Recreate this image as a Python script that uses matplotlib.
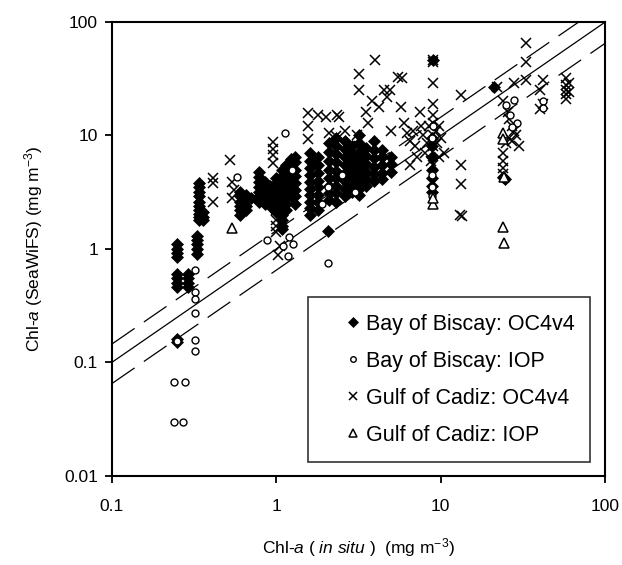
import numpy as np
import matplotlib
matplotlib.use('Agg')
import matplotlib.pyplot as plt

plt.rcParams['font.family'] = ['Liberation Sans', 'DejaVu Sans']
plt.rcParams['mathtext.fontset'] = 'custom'
plt.rcParams['mathtext.rm'] = 'Liberation Sans'
plt.rcParams['mathtext.it'] = 'Liberation Sans:italic'

# ---- Bay of Biscay, OC4v4 (filled diamonds), read column by column
bob_oc4_x = ([0.25] * 10 + [0.29] * 4 + [0.33] * 5 + [0.34] * 10 + [0.36] * 3
             + [0.6] * 6 + [0.65] * 4 + [0.7]
             + [0.78] * 7 + [0.85] * 6 + [0.92] * 6 + [1.0] * 8 + [1.08] * 11
             + [1.15] * 8 + [1.22] * 7 + [1.3] * 8 + [1.6] * 10 + [1.8] * 8
             + [2.1] * 8 + [2.3] * 9 + [2.6] * 8 + [2.9] * 7 + [3.2] * 9
             + [3.5] * 6 + [3.9] * 6 + [4.4] * 5 + [5.0] * 3 + [8.8] * 7
             + [9.0, 2.05, 21.0, 24.0, 24.5])
bob_oc4_y = ([1.1, 1.0, 0.92, 0.85, 0.6, 0.55, 0.5, 0.46, 0.16, 0.15]
             + [0.6, 0.55, 0.5, 0.46]
             + [1.3, 1.2, 1.1, 1.0, 0.9]
             + [3.8, 3.5, 3.2, 2.9, 2.6, 2.4, 2.2, 2.05, 1.9, 1.8]
             + [2.1, 1.9, 1.8]
             + [3.2, 2.9, 2.6, 2.4, 2.2, 2.0]
             + [3.0, 2.7, 2.4, 2.2]
             + [2.8]
             + [4.8, 4.3, 3.9, 3.5, 3.2, 2.9, 2.6]
             + [3.9, 3.5, 3.2, 2.9, 2.7, 2.5]
             + [3.6, 3.3, 3.0, 2.8, 2.6, 2.4]
             + [4.2, 3.8, 3.4, 3.1, 2.8, 2.5, 2.3, 2.1]
             + [5.0, 4.4, 3.9, 3.4, 3.0, 2.6, 2.3, 2.0, 1.8, 1.6, 1.5]
             + [5.5, 4.8, 4.2, 3.7, 3.2, 2.8, 2.5, 2.2]
             + [6.2, 5.5, 4.8, 4.2, 3.7, 3.3, 2.9]
             + [6.5, 5.8, 5.0, 4.4, 3.8, 3.3, 2.9, 2.5]
             + [7.0, 6.0, 5.2, 4.5, 3.9, 3.4, 3.0, 2.6, 2.3, 2.0]
             + [6.5, 5.5, 4.7, 4.0, 3.5, 3.0, 2.6, 2.2]
             + [8.5, 7.2, 6.0, 5.0, 4.2, 3.6, 3.1, 2.7]
             + [9.5, 8.0, 6.8, 5.8, 4.9, 4.2, 3.6, 3.1, 2.6]
             + [9.0, 7.6, 6.5, 5.5, 4.7, 4.0, 3.4, 2.9]
             + [8.0, 6.8, 5.8, 5.0, 4.3, 3.7, 3.2]
             + [10.0, 8.5, 7.2, 6.2, 5.3, 4.5, 3.9, 3.4, 3.0]
             + [7.8, 6.6, 5.6, 4.8, 4.1, 3.6]
             + [9.0, 7.5, 6.3, 5.3, 4.6, 4.0]
             + [7.5, 6.4, 5.5, 4.7, 4.1]
             + [6.5, 5.6, 4.8]
             + [9.5, 8.0, 6.5, 5.0, 4.2, 3.6, 3.2]
             + [46.0, 1.45, 27.0, 4.3, 4.1])

# ---- Bay of Biscay, IOP (open circles)
bob_iop_x = [0.24, 0.28, 0.24, 0.27, 0.25,
             0.32, 0.32, 0.32, 0.32, 0.32, 0.32,
             0.88, 1.09, 1.2, 1.27, 1.18, 2.05,
             1.13, 0.58, 1.25, 2.05, 2.5, 3.0, 1.9,
             8.8, 8.8, 8.9, 9.0, 8.9,
             25.0, 26.5, 28.0, 29.0, 27.0, 42.0, 42.0]
bob_iop_y = [0.067, 0.067, 0.030, 0.030, 0.155,
             0.65, 0.42, 0.36, 0.27, 0.157, 0.125,
             1.2, 1.05, 1.28, 1.1, 0.86, 0.75,
             10.5, 4.3, 5.0, 3.5, 4.5, 3.2, 2.5,
             4.5, 3.5, 2.9, 12.0, 9.5,
             18.5, 15.0, 20.5, 13.0, 11.9, 20.0, 17.5]

# ---- Gulf of Cadiz, OC4v4 (crosses)
goc_oc4_x = [0.41, 0.41, 0.41, 0.52, 0.54, 0.54, 0.55,
             0.96, 0.96, 0.96, 0.96, 1.0, 1.0, 1.0, 1.0, 1.02, 1.05,
             1.55, 1.55, 1.55, 1.8, 2.35, 2.1,
             2.0, 2.4, 2.3, 2.6, 2.8, 3.1, 3.2, 3.2, 3.5, 3.6, 3.8, 4.0,
             4.2, 4.5, 4.7, 4.9, 5.5, 5.8, 5.0, 5.7, 6.0, 6.2, 6.5, 6.8,
             7.0, 7.5, 7.6, 7.8, 8.0, 8.3, 8.5, 8.7,
             9.0, 9.0, 9.0, 9.0, 9.0, 9.0, 9.0, 9.0, 9.0,
             9.3, 9.5, 9.8, 9.7, 10.0, 10.5, 6.5, 7.2,
             13.2, 13.2, 13.2, 13.0, 13.4,
             22.0, 24.0, 25.5, 26.0, 27.0, 28.0, 26.0, 25.0, 24.0, 24.0,
             24.0, 24.0, 27.0, 28.5, 30.0,
             33.0, 33.0, 33.0, 27.7,
             42.0, 40.0, 42.0, 40.0,
             58.0, 58.0, 58.0, 58.0, 58.0, 60.0, 60.0]
goc_oc4_y = [4.2, 3.8, 2.6, 6.1, 3.9, 2.8, 3.3,
             8.8, 7.6, 6.7, 5.7, 2.2, 1.8, 1.6, 1.4, 0.88, 1.05,
             15.8, 12.0, 9.3, 15.0, 15.0, 10.5,
             14.6, 14.6, 9.8, 11.0, 8.0, 10.0, 35.0, 25.0, 16.0, 13.0,
             20.0, 46.0,
             18.0, 25.0, 22.0, 25.0, 33.0, 32.0, 11.0, 18.0, 13.0, 10.5,
             9.0, 11.0,
             8.0, 16.0, 12.0, 10.0, 7.0, 8.5, 12.0, 6.0,
             46.0, 44.0, 29.0, 19.0, 15.0, 13.0, 10.0, 8.0, 5.5,
             11.0, 8.5, 6.5, 12.0, 9.5, 7.0, 5.5, 6.5,
             22.7, 5.5, 3.7, 2.0, 1.95,
             27.0, 20.0, 16.0, 14.0, 12.0, 11.0, 9.5, 8.5, 7.0, 6.0,
             5.2, 4.6, 9.0, 10.0, 8.0,
             65.0, 44.0, 31.0, 29.0,
             31.0, 25.0, 19.0, 17.0,
             32.0, 28.0, 25.0, 23.0, 21.0, 29.0, 24.0]

# ---- Gulf of Cadiz, IOP (open triangles)
goc_iop_x = [0.54, 9.0, 9.0, 24.0, 24.0, 24.3, 24.0, 24.2]
goc_iop_y = [1.53, 2.5, 2.8, 10.5, 9.3, 4.3, 1.55, 1.12]

# reference lines: 1:1 and the two dashed error bounds
ref_x = [0.1, 100.0]
upper_factor = 1.45
lower_factor = 0.65

fig = plt.figure(figsize=(6.22, 5.65), dpi=100)
ax = fig.add_axes([0.180, 0.158, 0.793, 0.803])

ax.plot(ref_x, ref_x, color='black', lw=0.9, zorder=1)
ax.plot(ref_x, [v * upper_factor for v in ref_x], color='black', lw=0.9,
        ls=(0, (22, 9)), zorder=1)
ax.plot(ref_x, [v * lower_factor for v in ref_x], color='black', lw=0.9,
        ls=(0, (22, 9)), zorder=1)

ax.plot(goc_oc4_x, goc_oc4_y, ls='none', marker='x', ms=6.5, mew=1.1,
        color='black', label='Gulf of Cadiz: OC4v4', zorder=3)
ax.plot(bob_oc4_x, bob_oc4_y, ls='none', marker='D', ms=6.5, mew=0.5,
        color='black', label='Bay of Biscay: OC4v4', zorder=4)
ax.plot(bob_iop_x, bob_iop_y, ls='none', marker='o', ms=5, mew=1.0,
        mfc='white', mec='black', label='Bay of Biscay: IOP', zorder=5)
ax.plot(goc_iop_x, goc_iop_y, ls='none', marker='^', ms=7.5, mew=1.1,
        mfc='white', mec='black', label='Gulf of Cadiz: IOP', zorder=5)

ax.set_xscale('log')
ax.set_yscale('log')
ax.set_xlim(0.1, 100)
ax.set_ylim(0.01, 100)
ax.set_xticks([0.1, 1, 10, 100])
ax.set_xticklabels(['0.1', '1', '10', '100'])
ax.set_yticks([0.01, 0.1, 1, 10, 100])
ax.set_yticklabels(['0.01', '0.1', '1', '10', '100'])
ax.minorticks_off()
ax.tick_params(direction='out', length=5, width=1.3, labelsize=12.5, pad=12)
ax.tick_params(axis='y', pad=5)
for s in ax.spines.values():
    s.set_linewidth(1.5)

ax.set_xlabel(r'Chl-$\it{a}$ ( $\it{in\ situ}$ )  (mg m$^{-3}$)', fontsize=12.5,
              labelpad=16)
ax.set_ylabel(r'Chl-$\it{a}$ (SeaWiFS) (mg m$^{-3}$)', fontsize=12.5,
              labelpad=14)

# legend in the original order
h, l = ax.get_legend_handles_labels()
order = [1, 2, 0, 3]
leg = ax.legend([h[i] for i in order], [l[i] for i in order],
                loc='lower right', bbox_to_anchor=(0.970, 0.03),
                fontsize=15.5, frameon=True, fancybox=False, edgecolor='black',
                handlelength=2.6, handletextpad=-0.7, labelspacing=0.75,
                borderpad=0.75, borderaxespad=0.0, markerscale=0.8)
leg.get_frame().set_linewidth(1.2)
leg.get_frame().set_boxstyle('square', pad=0.0)

fig.savefig('out.png', dpi=100)
